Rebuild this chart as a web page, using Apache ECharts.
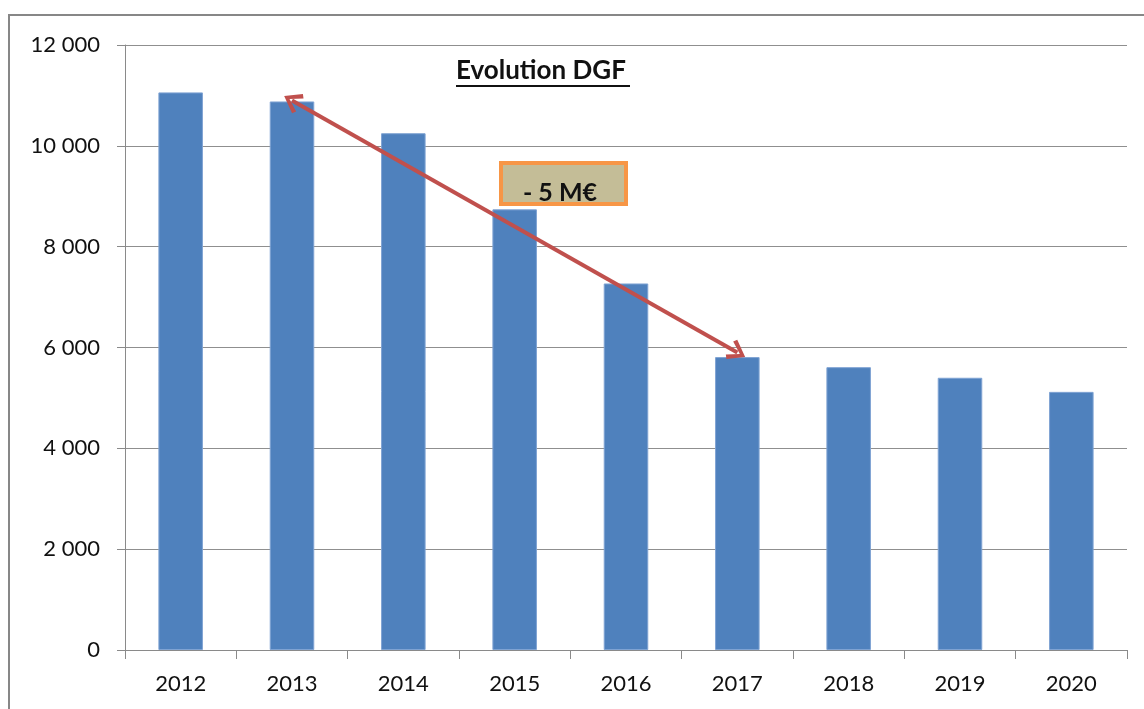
<!DOCTYPE html>
<html>
<head>
<meta charset="utf-8">
<script src="https://cdn.jsdelivr.net/npm/echarts@6/dist/echarts.min.js"></script>
<style>
  html, body { margin: 0; padding: 0; background: #fff; }
  #chart { width: 1144px; height: 709px; }
</style>
</head>
<body>
<div id="chart"></div>
<script>
// données
const years = ['2012', '2013', '2014', '2015', '2016', '2017', '2018', '2019', '2020']
const dgf = [11060, 10880, 10250, 8740, 7270, 5810, 5610, 5400, 5120]
const yTicks = { min: 0, max: 12000, interval: 2000 }
const arrowFrom = ['2013', 10900]
const arrowTo = ['2017', 5900]
const titleText = 'Evolution DGF'
const boxText = '- 5 M€'

const font = 'Lato, "DejaVu Sans", sans-serif'
const fmt = v => String(v).replace(/\B(?=(\d{3})+(?!\d))/g, ' ')

// pointe de flèche ouverte (pointe vers le haut, ECharts la fait tourner)
const chevron = 'path://M5,0 L10,8 L8.4,9.4 L5,3.2 L1.6,9.4 L0,8 Z'

const chart = echarts.init(document.getElementById('chart'))
chart.setOption({
  animation: false,
  backgroundColor: '#fff',
  grid: { left: 125, right: 17, top: 45, bottom: 59 },
  xAxis: {
    type: 'category',
    data: years,
    axisLine: { lineStyle: { color: '#8a8a8a', width: 1 } },
    axisTick: { show: true, length: 9, lineStyle: { color: '#8a8a8a' } },
    axisLabel: { fontFamily: font, fontSize: 22, color: '#111', margin: 23 }
  },
  yAxis: {
    type: 'value',
    min: yTicks.min,
    max: yTicks.max,
    interval: yTicks.interval,
    axisLine: { show: true, lineStyle: { color: '#8a8a8a', width: 1 } },
    axisTick: { show: true, length: 8, lineStyle: { color: '#8a8a8a' } },
    splitLine: { lineStyle: { color: '#8f8f8f', width: 1 } },
    axisLabel: { fontFamily: font, fontSize: 22, color: '#111', margin: 25, formatter: fmt }
  },
  series: [{
    type: 'bar',
    data: dgf,
    barWidth: '40%',
    itemStyle: { color: '#4f81bd', borderColor: '#7fa3d3', borderWidth: 1 },
    markLine: {
      silent: true,
      symbol: [chevron, chevron],
      symbolSize: [22, 18],
      label: { show: false },
      lineStyle: { color: '#c0504d', width: 4, type: 'solid', opacity: 1 },
      emphasis: { disabled: true },
      data: [[{ coord: arrowFrom }, { coord: arrowTo }]]
    }
  }],
  graphic: [
    {
      type: 'rect',
      shape: { x: 9, y: 15, width: 1200, height: 760 },
      style: { fill: null, stroke: '#878787', lineWidth: 2 },
      silent: true
    },
    {
      type: 'text',
      left: 456, top: 58,
      style: { text: titleText, fontFamily: font, fontSize: 26, fontWeight: 'bold', fill: '#111' }
    },
    {
      type: 'line',
      shape: { x1: 456, y1: 86, x2: 630, y2: 86 },
      style: { stroke: '#111', lineWidth: 2 }
    },
    {
      type: 'rect',
      shape: { x: 501, y: 163, width: 125, height: 41 },
      style: { fill: '#c4bd97', stroke: '#f79646', lineWidth: 4 }
    },
    {
      type: 'text',
      x: 560, y: 193,
      style: { text: boxText, fontFamily: font, fontSize: 25, fontWeight: 'bold', fill: '#111', align: 'center', verticalAlign: 'middle' }
    }
  ]
})
</script>
</body>
</html>
